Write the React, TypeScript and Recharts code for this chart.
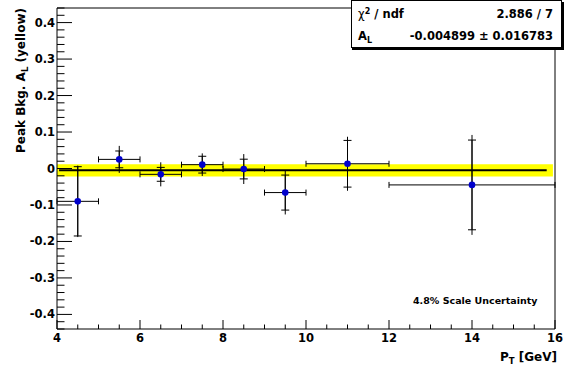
import React from 'react';
import { ComposedChart, Scatter, ErrorBar, XAxis, YAxis, ReferenceArea, ReferenceLine } from 'recharts';

// measured points: pT bin centres, half widths, asymmetry, stat error and total error
const PT = [4.5, 5.5, 6.5, 7.5, 8.5, 9.5, 11, 14];
const PT_ERR = [0.5, 0.5, 0.5, 0.5, 0.5, 0.5, 1, 2];
const AL = [-0.09, 0.025, -0.016, 0.0105, -0.0015, -0.066, 0.013, -0.045];
const AL_STAT = [0.095, 0.023, 0.019, 0.023, 0.027, 0.048, 0.064, 0.123];
const AL_TOT = [0.098, 0.037, 0.033, 0.031, 0.041, 0.06, 0.074, 0.137];

// constant fit result
const FIT_VALUE = -0.004899;
const FIT_ERROR = 0.016783;
const FIT_RANGE = [4.05, 15.8];
const BAND_RANGE = [4, 15.95];
const CHI2_TEXT = '2.886 / 7';
const FIT_TEXT = '-0.004899 \u00b1 0.016783';

const X_DOMAIN = [4, 16];
const Y_DOMAIN = [-0.44, 0.44];
const X_MAJOR = [4, 6, 8, 10, 12, 14, 16];
const Y_MAJOR = [-0.4, -0.3, -0.2, -0.1, 0, 0.1, 0.2, 0.3, 0.4];

const X_TICKS = Array.from({ length: 25 }, (_, k) => 4 + k * 0.5);
const Y_TICKS = Array.from({ length: 45 }, (_, k) => Math.round((k - 22) * 2) / 100);

const FONT = '"DejaVu Sans", sans-serif';

const data = PT.map((x, i) => ({ x, y: AL[i], ex: PT_ERR[i], stat: AL_STAT[i], tot: AL_TOT[i] }));

const XTick = (props: any) => {
  const { x, y, payload } = props;
  const major = X_MAJOR.includes(payload.value);
  return (
    <g>
      <line x1={x} x2={x} y1={y} y2={y - (major ? 9 : 4.5)} stroke="#000" />
      {major && (
        <text x={x} y={y + 13} textAnchor="middle" fontFamily={FONT} fontWeight="bold" fontSize={11.5} fill="#000">
          {payload.value}
        </text>
      )}
    </g>
  );
};

const YTick = (props: any) => {
  const { x, y, payload } = props;
  const major = Y_MAJOR.some((v) => Math.abs(v - payload.value) < 1e-9);
  return (
    <g>
      <line x1={x} x2={x + (major ? 15 : 7.5)} y1={y} y2={y} stroke="#000" />
      {major && (
        <text x={x - 2} y={y + 4} textAnchor="end" fontFamily={FONT} fontWeight="bold" fontSize={11.5} fill="#000">
          {Math.abs(payload.value) < 1e-9 ? '0' : String(payload.value)}
        </text>
      )}
    </g>
  );
};

const Dot = (p: any) => <circle cx={p.cx} cy={p.cy} r={3.3} fill="#0000cc" />;

export default function App() {
  return (
    <div style={{ position: 'absolute', left: 0, top: 0, width: 567, height: 366, background: '#fff' }}>
      <ComposedChart width={567} height={366} margin={{ top: 8, right: 12, bottom: 0, left: 0 }}>
        <XAxis
          type="number"
          dataKey="x"
          domain={X_DOMAIN}
          ticks={X_TICKS}
          interval={0}
          allowDataOverflow
          axisLine={false}
          tickLine={false}
          tickSize={0}
          tickMargin={0}
          height={37}
          tick={<XTick />}
        />
        <YAxis
          type="number"
          dataKey="y"
          domain={Y_DOMAIN}
          ticks={Y_TICKS}
          interval={0}
          allowDataOverflow
          axisLine={false}
          tickLine={false}
          tickSize={0}
          tickMargin={0}
          width={57}
          tick={<YTick />}
        />
        <ReferenceArea
          x1={BAND_RANGE[0]}
          x2={BAND_RANGE[1]}
          y1={FIT_VALUE - FIT_ERROR}
          y2={FIT_VALUE + FIT_ERROR}
          fill="#ffff00"
          fillOpacity={1}
          stroke="none"
        />
        <ReferenceLine
          segment={[{ x: FIT_RANGE[0], y: FIT_VALUE }, { x: FIT_RANGE[1], y: FIT_VALUE }]}
          stroke="#000"
          strokeWidth={2}
        />
        <ReferenceArea x1={X_DOMAIN[0]} x2={X_DOMAIN[1]} y1={Y_DOMAIN[0]} y2={Y_DOMAIN[1]} fill="none" stroke="#000" />
        <Scatter data={data} dataKey="y" shape={Dot} isAnimationActive={false}>
          <ErrorBar dataKey="tot" direction="y" width={0} stroke="#000" strokeWidth={1} />
          <ErrorBar dataKey="stat" direction="y" width={4} stroke="#000" strokeWidth={1} />
          <ErrorBar dataKey="ex" direction="x" width={3} stroke="#000" strokeWidth={1} />
        </Scatter>
      </ComposedChart>
      <svg width={567} height={366} style={{ position: 'absolute', left: 0, top: 0, pointerEvents: 'none' }}>
        <g fontFamily={FONT} fontWeight="bold" fill="#000">
          <text transform="translate(25,8) rotate(-90)" textAnchor="end" fontSize={12}>
            Peak Bkg. A<tspan dy={3} fontSize={8.5}>L</tspan>
            <tspan dy={-3}> (yellow)</tspan>
          </text>
          <text x={557} y={361} textAnchor="end" fontSize={12}>
            P<tspan dy={3} fontSize={8.5}>T</tspan>
            <tspan dy={-3}> [GeV]</tspan>
          </text>
          <text x={413} y={304} fontSize={9.5}>4.8% Scale Uncertainty</text>
        </g>
        <rect x={352} y={48} width={212} height={2} fill="#000" />
        <rect x={562} y={2} width={2} height={48} fill="#000" />
        <rect x={351.5} y={0.5} width={210} height={47} fill="#fff" stroke="#000" />
        <g fontFamily={FONT} fontWeight="bold" fontSize={11.5} fill="#000">
          <text x={358} y={18}>
            <tspan fontWeight="normal">{'\u03c7'}</tspan>
            <tspan dy={-4} fontSize={8}>2</tspan>
            <tspan dy={4}> / ndf</tspan>
          </text>
          <text x={553} y={18} textAnchor="end">{CHI2_TEXT}</text>
          <text x={358} y={40}>
            A<tspan dy={3} fontSize={8}>L</tspan>
          </text>
          <text x={553} y={40} textAnchor="end">{FIT_TEXT}</text>
        </g>
      </svg>
    </div>
  );
}
